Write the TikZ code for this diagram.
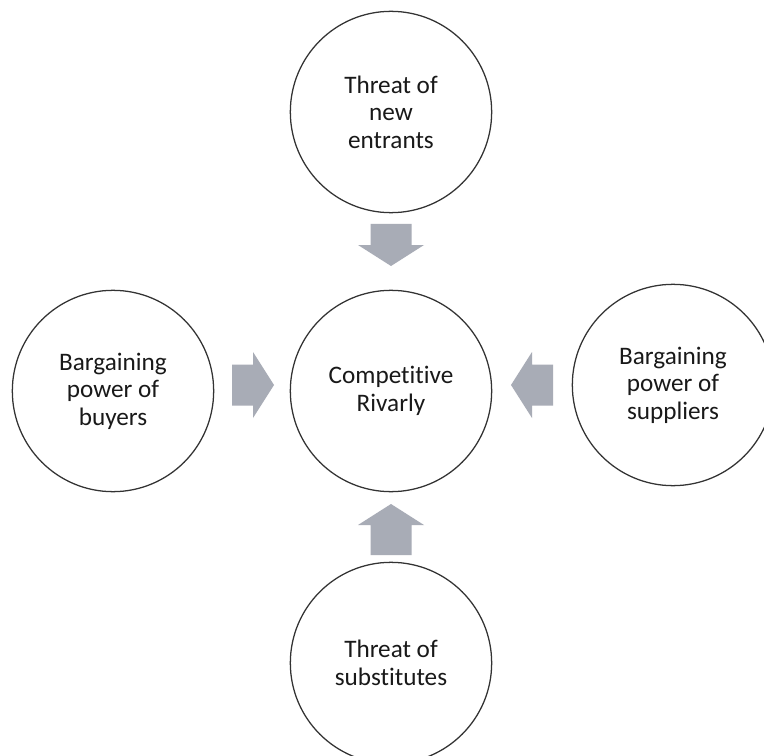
\documentclass[tikz,border=0pt]{standalone}
\usepackage{fontspec}
\setmainfont{Carlito}[Ligatures={NoCommon}]
\begin{document}
\begin{tikzpicture}[x=0.75pt,y=-0.75pt,
  force/.style={circle, draw=black!80, line width=0.95pt, fill=white,
    minimum size=151pt, inner sep=0pt, align=center, text=black!90,
    font=\fontsize{18.9}{20.7}\selectfont},
  pics/blockarrow/.style={code={
    \fill[fill={rgb,255:red,168;green,172;blue,182}]
      (0,-20.5) -- (#1,-20.5) -- (#1,-33) -- (#1+21,0) -- (#1,33)
      -- (#1,20.5) -- (0,20.5) -- cycle;}}]
  \clip (0,0) rectangle (764,756);
  \fill[white] (0,0) rectangle (764,756);

  % the five forces
  \node[force] (entrants)  at (391,112) {Threat of\\new\\entrants};
  \node[force] (buyers)    at (113,391) {Bargaining\\power of\\buyers};
  \node[force] (rivalry)   at (391,391) {Competitive\\Rivarly};
  \node[force] (suppliers) at (673,385) {Bargaining\\power of\\suppliers};
  \node[force] (substitutes) at (391,663) {Threat of\\substitutes};

  % block arrows pointing at the centre
  \pic[rotate=-90] at (391,224) {blockarrow=21};
  \pic at (232,385) {blockarrow=21};
  \pic[rotate=180] at (553,385) {blockarrow=21};
  \pic[rotate=90] at (391,555) {blockarrow=30};
\end{tikzpicture}
\end{document}
